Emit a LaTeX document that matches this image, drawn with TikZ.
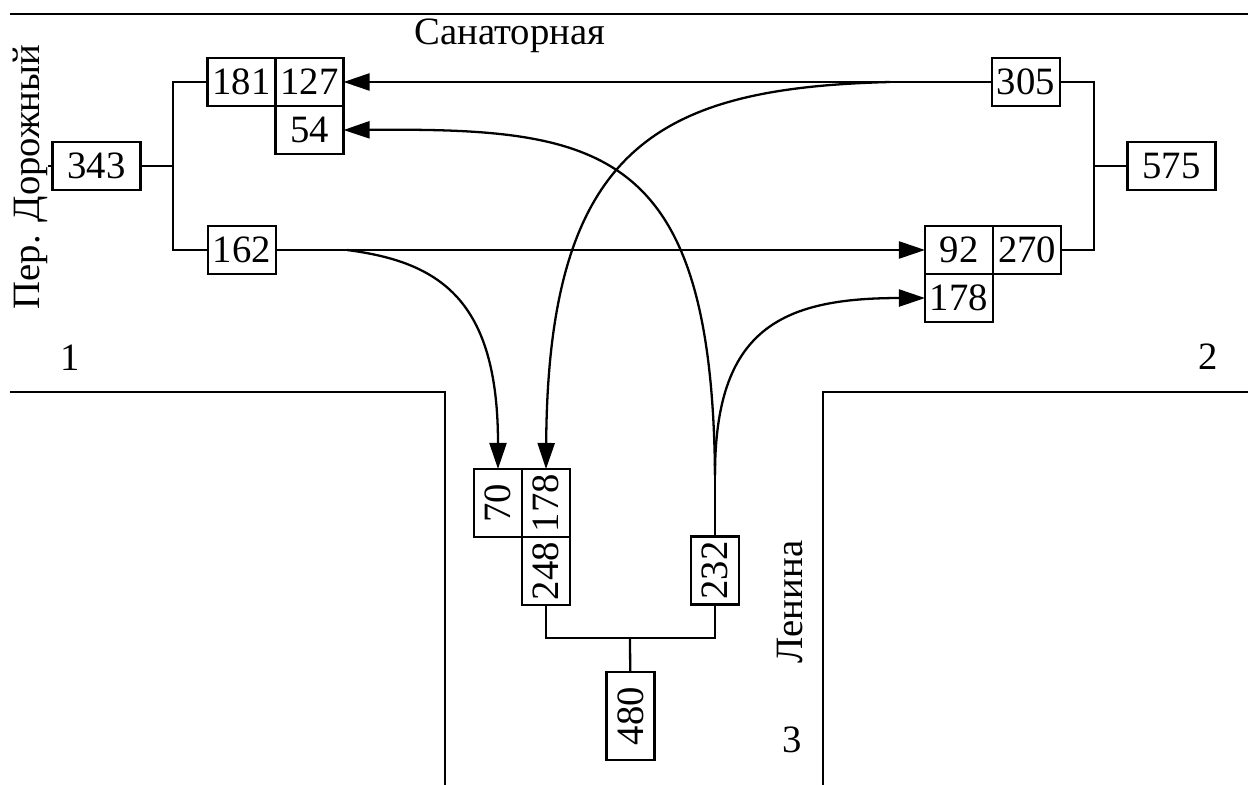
\documentclass[tikz,border=0pt]{standalone}
\usepackage{fontspec}
\setmainfont{Liberation Serif}
\usepackage{graphicx}
\usetikzlibrary{positioning,arrows.meta}

\begin{document}
\begin{tikzpicture}[
        x=0.01cm, y=-0.01cm,
        font=\fontsize{11}{13}\selectfont,
        line width=0.65pt,
        cell/.style={draw,inner sep=0pt,outer sep=0pt,minimum width=0.68cm,minimum height=0.48cm},
        widecell/.style={cell,minimum width=0.88cm},
        vcell/.style={draw,inner sep=0pt,outer sep=0pt,minimum width=0.48cm,minimum height=0.68cm},
        longcell/.style={vcell,minimum height=0.88cm},
        street/.style={line width=0.75pt},
        flow/.style={-{Triangle[length=0.26cm,width=0.17cm]}},
        ]
    \useasboundingbox (0,0) rectangle (1248,785);
    % streets
    \draw[street] (10,14) -- (1248,14);
    \draw[street] (10,392) -- (445,392) -- (445,785);
    \draw[street] (1248,392) -- (823,392) -- (823,785);
    \node (s1) at (510,36) {Санаторная};
    \node (s2) [rotate=90] at (30,177) {Пер. Дорожный};
    \node (s3) [rotate=90] at (790,602) {Ленина};
    \node (z1) at (70,358) {1};
    \node (z2) at (1208,357) {2};
    \node (z3) at (792,740) {3};

    % approach 1
    \node (n343) [widecell] at (96.5,166) {343};
    \node (n181) [cell] at (241.5,82) {181};
    \node (n127) [cell, right=0pt of n181] {127};
    \node (n54) [cell, below=0pt of n127] {54};
    \node (n162) [cell] at (242,250) {162};
    \coordinate (j343) at (173,166);
    \draw (n343.west) -- ++(-4,0);
    \draw (n343) -- (j343);
    \draw (n181) -| (j343) |- (n162);

    % approach 2
    \node (n575) [widecell] at (1171.5,166) {575};
    \node (n305) [cell] at (1026,82) {305};
    \node (n92) [cell] at (959,250) {92};
    \node (n270) [cell, right=0pt of n92] {270};
    \node (n178a) [cell, below=0pt of n92] {178};
    \coordinate (j575) at (1094,166);
    \draw (j575) -- (n575);
    \draw (n305) -| (j575) |- (n270);

    % approach 3
    \node (n480) [longcell] at (630.5,716) {\rotatebox{90}{480}};
    \node (n70) [vcell] at (498,503) {\rotatebox{90}{70}};
    \node (n178b) [vcell, right=0pt of n70] {\rotatebox{90}{178}};
    \node (n248) [vcell, below=0pt of n178b] {\rotatebox{90}{248}};
    \node (n232) [vcell] at (715,570.5) {\rotatebox{90}{232}};
    \coordinate (j480) at (630,638);
    \draw (j480) -- (n480);
    \draw (n248) |- (j480) -| (n232);

    % flows
    \coordinate (b305) at (890,82);
    \coordinate (b162) at (347,250);
    \coordinate (b232) at (715,475);
    \draw[flow] (n305) -- (n127);
    \draw[flow] (b305) .. controls (660,88) and (548,145) .. (n178b.north);
    \draw[flow] (n162) -- (n92);
    \draw[flow] (b162) .. controls (440,262) and (498,300) .. (n70.north);
    \draw (n232) -- (b232);
    \draw[flow] (b232) .. controls (712,145) and (600,128) .. (n54.east);
    \draw[flow] (b232) .. controls (715,330) and (780,298) .. (n178a.west);
\end{tikzpicture}
\end{document}
